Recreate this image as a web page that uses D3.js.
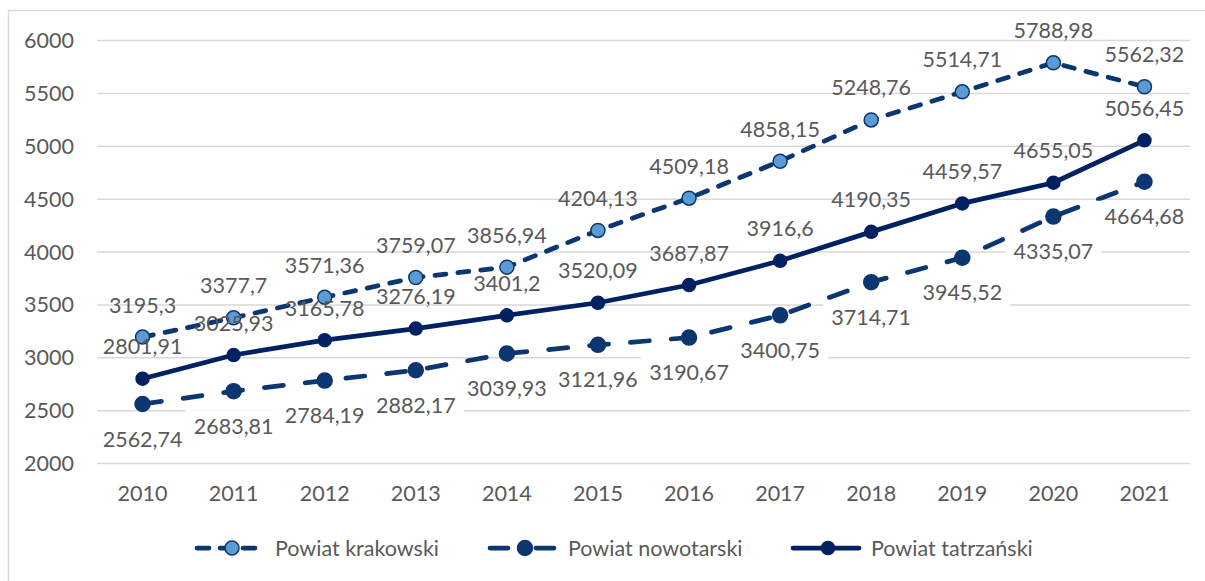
<!DOCTYPE html>
<meta charset="utf-8">
<style>
body { margin: 0; background: #fff; }
svg { font-family: "Lato", "Open Sans", sans-serif; }
.grid line { stroke: #d9d9d9; stroke-width: 1.5; }
.axis text, .lbl, .legend text { fill: #595959; }
</style>
<svg width="1205" height="581"></svg>
<script src="https://d3js.org/d3.v7.min.js"></script>
<script>

var years = ["2010", "2011", "2012", "2013", "2014", "2015", "2016", "2017", "2018", "2019", "2020", "2021"];
var krakowski = [3195.3, 3377.7, 3571.36, 3759.07, 3856.94, 4204.13, 4509.18, 4858.15, 5248.76, 5514.71, 5788.98, 5562.32];
var nowotarski = [2562.74, 2683.81, 2784.19, 2882.17, 3039.93, 3121.96, 3190.67, 3400.75, 3714.71, 3945.52, 4335.07, 4664.68];
var tatrzanski = [2801.91, 3025.93, 3165.78, 3276.19, 3401.2, 3520.09, 3687.87, 3916.6, 4190.35, 4459.57, 4655.05, 5056.45];
var yTicks = [2000, 2500, 3000, 3500, 4000, 4500, 5000, 5500, 6000];

var series = [
  {name: "Powiat krakowski", values: krakowski, color: "#0b3670", fill: "#5b9bd5", r: 7, dash: "11,12", ldash: "12,11", pos: "above", box: false, lx: 197},
  {name: "Powiat nowotarski", values: nowotarski, color: "#0b3670", fill: "#0b3670", r: 7.5, dash: "19,22", ldash: "18,28", pos: "below", box: true, lx: 490},
  {name: "Powiat tatrzański", values: tatrzanski, color: "#022163", fill: "#022163", r: 6.5, dash: null, ldash: null, pos: "above", box: false, lx: 793}
];

var svg = d3.select("svg");
var fontSize = 21.5;

// border of the chart area
svg.append("rect")
    .attr("x", 8.5).attr("y", 10.5)
    .attr("width", 1400).attr("height", 800)
    .attr("fill", "none").attr("stroke", "#d9d9d9").attr("stroke-width", 1.5);

var x = d3.scaleBand().domain(years).range([97, 1190]),
    y = d3.scaleLinear().domain([2000, 6000]).range([463.5, 40.5]);

function cx(i) { return x(years[i]) + x.bandwidth() / 2; }

// gridlines
svg.append("g").attr("class", "grid")
  .selectAll("line").data(yTicks).enter().append("line")
    .attr("x1", 97).attr("x2", 1190)
    .attr("y1", function(d) { return y(d); })
    .attr("y2", function(d) { return y(d); });

// y axis labels
svg.append("g").attr("class", "axis")
  .selectAll("text").data(yTicks).enter().append("text")
    .attr("x", 74).attr("y", function(d) { return y(d); })
    .attr("text-anchor", "end").attr("dy", "0.35em")
    .style("font-size", fontSize + "px")
    .text(function(d) { return d; });

// x axis labels
svg.append("g").attr("class", "axis")
  .selectAll("text").data(years).enter().append("text")
    .attr("x", function(d, i) { return cx(i); }).attr("y", 493)
    .attr("text-anchor", "middle").attr("dy", "0.35em")
    .style("font-size", fontSize + "px")
    .text(function(d) { return d; });

var line = d3.line()
    .x(function(d, i) { return cx(i); })
    .y(function(d) { return y(d); });

series.forEach(function(s) {
  svg.append("path")
      .datum(s.values)
      .attr("d", line)
      .attr("fill", "none")
      .attr("stroke", s.color)
      .attr("stroke-width", 4.75)
      .attr("stroke-linecap", "round")
      .attr("stroke-linejoin", "round")
      .attr("stroke-dasharray", s.dash);

  svg.append("g").selectAll("circle").data(s.values).enter().append("circle")
      .attr("cx", function(d, i) { return cx(i); })
      .attr("cy", function(d) { return y(d); })
      .attr("r", s.r)
      .attr("fill", s.fill)
      .attr("stroke", s.color)
      .attr("stroke-width", 1.5);
});

function fmt(v) { return String(v).replace(".", ","); }

// data labels
series.forEach(function(s) {
  var g = svg.append("g");
  s.values.forEach(function(v, i) {
    var ly = s.pos == "above" ? y(v) - 32 : y(v) + 35;
    var t = g.append("text")
        .attr("class", "lbl")
        .attr("x", cx(i)).attr("y", ly)
        .attr("text-anchor", "middle").attr("dy", "0.35em")
        .style("font-size", fontSize + "px")
        .text(fmt(v));
    if (s.box) {
      var w = t.node().getComputedTextLength();
      g.insert("rect", function() { return t.node(); })
          .attr("x", cx(i) - w / 2 - 8).attr("y", ly - 16)
          .attr("width", w + 16).attr("height", 32)
          .attr("fill", "#fff");
    }
  });
});

// legend
var legend = svg.append("g").attr("class", "legend");
series.forEach(function(s) {
  var ly = 548;
  legend.append("line")
      .attr("x1", s.lx).attr("x2", s.lx + 66)
      .attr("y1", ly).attr("y2", ly)
      .attr("stroke", s.color).attr("stroke-width", 4.75)
      .attr("stroke-linecap", "round")
      .attr("stroke-dasharray", s.ldash);
  legend.append("circle")
      .attr("cx", s.lx + 35).attr("cy", ly).attr("r", s.r)
      .attr("fill", s.fill).attr("stroke", s.color).attr("stroke-width", 1.5);
  legend.append("text")
      .attr("x", s.lx + 78).attr("y", ly).attr("dy", "0.35em")
      .style("font-size", fontSize + "px")
      .text(s.name);
});

</script>
